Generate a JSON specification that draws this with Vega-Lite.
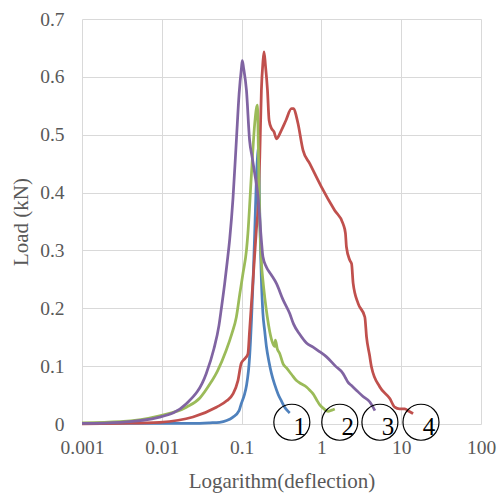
{
  "$schema": "https://vega.github.io/schema/vega-lite/v6.json",
  "width": 399,
  "height": 405,
  "autosize": {"type": "none"},
  "padding": {"left": 82, "top": 19, "right": 16, "bottom": 74},
  "background": "white",
  "config": {"view": {"stroke": null}, "font": "Times New Roman, Liberation Serif, serif"},
  "datasets": {
    "curves": [
      {"s": "1", "x": 0.001, "y": 0.001}, {"s": "1", "x": 0.003, "y": 0.001}, {"s": "1", "x": 0.01, "y": 0.001},
      {"s": "1", "x": 0.0246, "y": 0.001}, {"s": "1", "x": 0.04, "y": 0.002}, {"s": "1", "x": 0.053, "y": 0.003},
      {"s": "1", "x": 0.065, "y": 0.006}, {"s": "1", "x": 0.078, "y": 0.012}, {"s": "1", "x": 0.093, "y": 0.023},
      {"s": "1", "x": 0.099, "y": 0.035}, {"s": "1", "x": 0.108, "y": 0.05}, {"s": "1", "x": 0.115, "y": 0.066},
      {"s": "1", "x": 0.126, "y": 0.116}, {"s": "1", "x": 0.133, "y": 0.18}, {"s": "1", "x": 0.139, "y": 0.245},
      {"s": "1", "x": 0.146, "y": 0.33}, {"s": "1", "x": 0.153, "y": 0.421}, {"s": "1", "x": 0.159, "y": 0.465},
      {"s": "1", "x": 0.163, "y": 0.479}, {"s": "1", "x": 0.168, "y": 0.38}, {"s": "1", "x": 0.172, "y": 0.31},
      {"s": "1", "x": 0.177, "y": 0.25}, {"s": "1", "x": 0.185, "y": 0.191}, {"s": "1", "x": 0.195, "y": 0.16},
      {"s": "1", "x": 0.205, "y": 0.133}, {"s": "1", "x": 0.22, "y": 0.108}, {"s": "1", "x": 0.237, "y": 0.087},
      {"s": "1", "x": 0.26, "y": 0.068}, {"s": "1", "x": 0.286, "y": 0.052}, {"s": "1", "x": 0.315, "y": 0.04},
      {"s": "1", "x": 0.347, "y": 0.029}, {"s": "1", "x": 0.375, "y": 0.023}, {"s": "1", "x": 0.401, "y": 0.019},

      {"s": "4", "x": 0.001, "y": 0.0}, {"s": "4", "x": 0.003, "y": 0.001}, {"s": "4", "x": 0.0094, "y": 0.003},
      {"s": "4", "x": 0.0246, "y": 0.012}, {"s": "4", "x": 0.0483, "y": 0.029}, {"s": "4", "x": 0.065, "y": 0.04},
      {"s": "4", "x": 0.078, "y": 0.052}, {"s": "4", "x": 0.09, "y": 0.075}, {"s": "4", "x": 0.099, "y": 0.105},
      {"s": "4", "x": 0.11, "y": 0.113}, {"s": "4", "x": 0.12, "y": 0.121}, {"s": "4", "x": 0.126, "y": 0.162},
      {"s": "4", "x": 0.139, "y": 0.248}, {"s": "4", "x": 0.153, "y": 0.335}, {"s": "4", "x": 0.161, "y": 0.375},
      {"s": "4", "x": 0.169, "y": 0.462}, {"s": "4", "x": 0.177, "y": 0.577}, {"s": "4", "x": 0.185, "y": 0.625},
      {"s": "4", "x": 0.191, "y": 0.643}, {"s": "4", "x": 0.199, "y": 0.62}, {"s": "4", "x": 0.211, "y": 0.577},
      {"s": "4", "x": 0.221, "y": 0.525}, {"s": "4", "x": 0.237, "y": 0.511}, {"s": "4", "x": 0.255, "y": 0.505},
      {"s": "4", "x": 0.273, "y": 0.493}, {"s": "4", "x": 0.316, "y": 0.508}, {"s": "4", "x": 0.36, "y": 0.525},
      {"s": "4", "x": 0.421, "y": 0.545}, {"s": "4", "x": 0.45, "y": 0.545}, {"s": "4", "x": 0.487, "y": 0.531},
      {"s": "4", "x": 0.51, "y": 0.519}, {"s": "4", "x": 0.589, "y": 0.473}, {"s": "4", "x": 0.715, "y": 0.45},
      {"s": "4", "x": 1.0, "y": 0.41}, {"s": "4", "x": 1.47, "y": 0.369}, {"s": "4", "x": 1.87, "y": 0.346},
      {"s": "4", "x": 2.0, "y": 0.33}, {"s": "4", "x": 2.06, "y": 0.306}, {"s": "4", "x": 2.27, "y": 0.283},
      {"s": "4", "x": 2.39, "y": 0.277}, {"s": "4", "x": 2.5, "y": 0.243}, {"s": "4", "x": 2.89, "y": 0.208},
      {"s": "4", "x": 3.5, "y": 0.185}, {"s": "4", "x": 3.68, "y": 0.15}, {"s": "4", "x": 4.0, "y": 0.12},
      {"s": "4", "x": 4.25, "y": 0.098}, {"s": "4", "x": 5.4, "y": 0.064}, {"s": "4", "x": 7.2, "y": 0.044},
      {"s": "4", "x": 8.3, "y": 0.029}, {"s": "4", "x": 9.5, "y": 0.026}, {"s": "4", "x": 11.1, "y": 0.026},
      {"s": "4", "x": 12.5, "y": 0.022}, {"s": "4", "x": 14.1, "y": 0.018},

      {"s": "2", "x": 0.001, "y": 0.002}, {"s": "2", "x": 0.003, "y": 0.004}, {"s": "2", "x": 0.0094, "y": 0.014},
      {"s": "2", "x": 0.0203, "y": 0.029}, {"s": "2", "x": 0.03, "y": 0.045}, {"s": "2", "x": 0.04, "y": 0.069},
      {"s": "2", "x": 0.05, "y": 0.092}, {"s": "2", "x": 0.064, "y": 0.127}, {"s": "2", "x": 0.075, "y": 0.155},
      {"s": "2", "x": 0.086, "y": 0.185}, {"s": "2", "x": 0.095, "y": 0.225}, {"s": "2", "x": 0.104, "y": 0.26},
      {"s": "2", "x": 0.115, "y": 0.3}, {"s": "2", "x": 0.12, "y": 0.33}, {"s": "2", "x": 0.133, "y": 0.433},
      {"s": "2", "x": 0.146, "y": 0.519}, {"s": "2", "x": 0.153, "y": 0.545}, {"s": "2", "x": 0.158, "y": 0.551},
      {"s": "2", "x": 0.162, "y": 0.48}, {"s": "2", "x": 0.166, "y": 0.4}, {"s": "2", "x": 0.17, "y": 0.34},
      {"s": "2", "x": 0.177, "y": 0.28}, {"s": "2", "x": 0.186, "y": 0.245}, {"s": "2", "x": 0.195, "y": 0.219},
      {"s": "2", "x": 0.21, "y": 0.185}, {"s": "2", "x": 0.225, "y": 0.16}, {"s": "2", "x": 0.245, "y": 0.14},
      {"s": "2", "x": 0.26, "y": 0.134}, {"s": "2", "x": 0.265, "y": 0.145}, {"s": "2", "x": 0.28, "y": 0.13},
      {"s": "2", "x": 0.3, "y": 0.122}, {"s": "2", "x": 0.331, "y": 0.104}, {"s": "2", "x": 0.365, "y": 0.097},
      {"s": "2", "x": 0.421, "y": 0.086}, {"s": "2", "x": 0.487, "y": 0.075}, {"s": "2", "x": 0.55, "y": 0.07},
      {"s": "2", "x": 0.65, "y": 0.064}, {"s": "2", "x": 0.72, "y": 0.058}, {"s": "2", "x": 0.787, "y": 0.052},
      {"s": "2", "x": 0.87, "y": 0.042}, {"s": "2", "x": 0.955, "y": 0.033}, {"s": "2", "x": 1.08, "y": 0.026},
      {"s": "2", "x": 1.21, "y": 0.022}, {"s": "2", "x": 1.35, "y": 0.024}, {"s": "2", "x": 1.47, "y": 0.026},

      {"s": "3", "x": 0.001, "y": 0.001}, {"s": "3", "x": 0.003, "y": 0.003}, {"s": "3", "x": 0.0094, "y": 0.012},
      {"s": "3", "x": 0.0203, "y": 0.035}, {"s": "3", "x": 0.036, "y": 0.087}, {"s": "3", "x": 0.045, "y": 0.13},
      {"s": "3", "x": 0.052, "y": 0.17}, {"s": "3", "x": 0.0558, "y": 0.2}, {"s": "3", "x": 0.0614, "y": 0.243},
      {"s": "3", "x": 0.066, "y": 0.28}, {"s": "3", "x": 0.071, "y": 0.32}, {"s": "3", "x": 0.078, "y": 0.39},
      {"s": "3", "x": 0.086, "y": 0.49}, {"s": "3", "x": 0.093, "y": 0.57}, {"s": "3", "x": 0.0995, "y": 0.615},
      {"s": "3", "x": 0.102, "y": 0.628}, {"s": "3", "x": 0.106, "y": 0.615}, {"s": "3", "x": 0.115, "y": 0.577},
      {"s": "3", "x": 0.126, "y": 0.49}, {"s": "3", "x": 0.136, "y": 0.46}, {"s": "3", "x": 0.146, "y": 0.433},
      {"s": "3", "x": 0.161, "y": 0.392}, {"s": "3", "x": 0.177, "y": 0.317}, {"s": "3", "x": 0.185, "y": 0.289},
      {"s": "3", "x": 0.205, "y": 0.271}, {"s": "3", "x": 0.235, "y": 0.258}, {"s": "3", "x": 0.273, "y": 0.243},
      {"s": "3", "x": 0.33, "y": 0.215}, {"s": "3", "x": 0.401, "y": 0.191}, {"s": "3", "x": 0.447, "y": 0.173},
      {"s": "3", "x": 0.535, "y": 0.155}, {"s": "3", "x": 0.65, "y": 0.14}, {"s": "3", "x": 0.787, "y": 0.133},
      {"s": "3", "x": 0.95, "y": 0.125}, {"s": "3", "x": 1.16, "y": 0.116}, {"s": "3", "x": 1.5, "y": 0.1},
      {"s": "3", "x": 1.875, "y": 0.087}, {"s": "3", "x": 2.0, "y": 0.08}, {"s": "3", "x": 2.16, "y": 0.072},
      {"s": "3", "x": 2.4, "y": 0.066}, {"s": "3", "x": 2.76, "y": 0.058}, {"s": "3", "x": 3.3, "y": 0.048},
      {"s": "3", "x": 4.05, "y": 0.038}, {"s": "3", "x": 4.4, "y": 0.03}, {"s": "3", "x": 4.68, "y": 0.023}
    ],
    "labels": [
      {"n": "1", "x": 0.426, "y": 0.003},
      {"n": "2", "x": 1.7, "y": 0.003},
      {"n": "3", "x": 5.41, "y": 0.003},
      {"n": "4", "x": 17.7, "y": 0.003}
    ]
  },
  "layer": [
    {
      "data": {"name": "curves"},
      "mark": {"type": "line", "strokeWidth": 2.75, "strokeJoin": "round", "interpolate": "monotone"},
      "encoding": {
        "x": {
          "field": "x", "type": "quantitative",
          "scale": {"type": "log", "domain": [0.001, 100], "nice": false},
          "axis": {
            "values": [0.001, 0.01, 0.1, 1, 10, 100],
            "format": "~g",
            "grid": true, "gridColor": "#d9d9d9", "gridWidth": 1,
            "domain": false, "ticks": false,
            "labelFont": "Times New Roman, Liberation Serif, serif", "labelFontSize": 19.5, "labelColor": "#595959",
            "labelPadding": 14, "labelFlush": false, "labelOverlap": false,
            "title": "Logarithm(deflection)",
            "titleFont": "Times New Roman, Liberation Serif, serif", "titleFontSize": 21, "titleFontWeight": "normal",
            "titleColor": "#595959", "titlePadding": 14
          }
        },
        "y": {
          "field": "y", "type": "quantitative",
          "scale": {"domain": [0, 0.7], "nice": false},
          "axis": {
            "values": [0, 0.1, 0.2, 0.3, 0.4, 0.5, 0.6, 0.7],
            "format": "~g",
            "grid": true, "gridColor": "#d9d9d9", "gridWidth": 1,
            "domain": false, "ticks": false,
            "labelFont": "Times New Roman, Liberation Serif, serif", "labelFontSize": 19.5, "labelColor": "#595959",
            "labelPadding": 18, "labelFlush": false, "labelOverlap": false,
            "title": "Load (kN)",
            "titleFont": "Times New Roman, Liberation Serif, serif", "titleFontSize": 21, "titleFontWeight": "normal",
            "titleColor": "#595959", "titlePadding": 8
          }
        },
        "color": {
          "field": "s", "type": "nominal",
          "scale": {"domain": ["1", "2", "3", "4"], "range": ["#4F81BD", "#9BBB59", "#8064A2", "#C0504D"]},
          "legend": null
        }
      }
    },
    {
      "data": {"name": "labels"},
      "mark": {"type": "point", "shape": "circle", "size": 1296, "filled": false, "color": "black", "strokeWidth": 1.2, "opacity": 1},
      "encoding": {
        "x": {"field": "x", "type": "quantitative"},
        "y": {"field": "y", "type": "quantitative"}
      }
    },
    {
      "data": {"name": "labels"},
      "mark": {"type": "text", "font": "Times New Roman, Liberation Serif, serif", "fontSize": 25, "dx": 8, "dy": 13, "baseline": "alphabetic", "align": "center", "color": "black"},
      "encoding": {
        "x": {"field": "x", "type": "quantitative"},
        "y": {"field": "y", "type": "quantitative"},
        "text": {"field": "n"}
      }
    }
  ]
}
